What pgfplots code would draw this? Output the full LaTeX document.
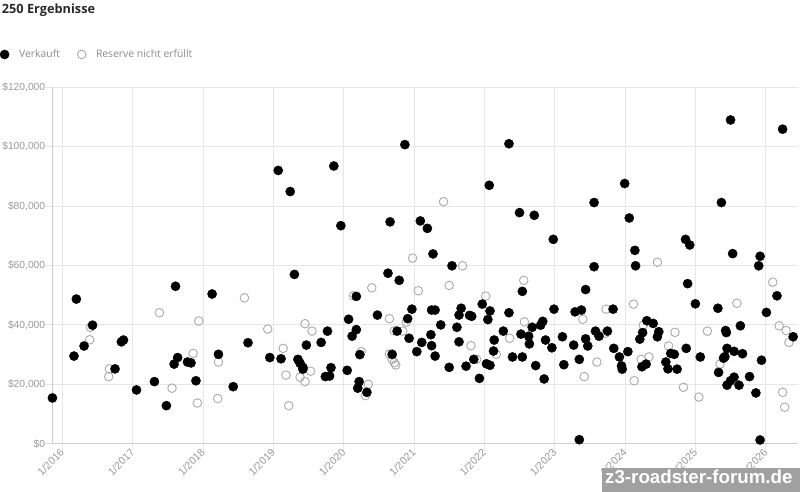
\documentclass[border=0pt]{standalone}
\usepackage{pgfplots}
\pgfplotsset{compat=1.18}
\usepackage{fontspec}
\setmainfont{Liberation Sans}
\newfontfamily\opensans{Open Sans}
\definecolor{gridc}{HTML}{E6E6E6}
\definecolor{axisc}{HTML}{CCCCCC}
\definecolor{tickc}{HTML}{999999}
\definecolor{legc}{HTML}{8A8A8A}
\definecolor{titlec}{HTML}{2A2A2A}
\definecolor{openc}{HTML}{AAAAAA}
\definecolor{wmc}{HTML}{A0A0A0}
\begin{document}
\begin{tikzpicture}
\path[use as bounding box] (0,0) rectangle (800bp,492bp);
\node[anchor=base west, inner sep=0pt, font=\opensans\bfseries\fontsize{12.8}{15}\selectfont, text=titlec] at (1.7bp,478bp) {250 Ergebnisse};
\begin{axis}[
  at={(52.3bp,48.3bp)}, anchor=south west,
  scale only axis, width=745.7bp, height=356.4bp,
  xmin=2015.858, xmax=2026.459, ymin=0, ymax=120000,
  axis x line*=bottom, axis y line*=left,
  axis line style={draw=axisc, line width=1bp, -},
  grid=major, major grid style={draw=gridc, line width=0.8bp},
  tick align=outside, major tick length=7bp,
  tick style={draw=gridc, line width=0.8bp},
  xtick={2016,2017,2018,2019,2020,2021,2022,2023,2024,2025,2026},
  xticklabels={1/2016,1/2017,1/2018,1/2019,1/2020,1/2021,1/2022,1/2023,1/2024,1/2025,1/2026},
  ytick={0,20000,40000,60000,80000,100000,120000},
  yticklabels={\$0,{\$20,000},{\$40,000},{\$60,000},{\$80,000},{\$100,000},{\$120,000}},
  scaled y ticks=false,
  tick label style={font=\fontsize{10.3}{12}\selectfont, text=tickc},
  yticklabel style={anchor=east, inner sep=0pt},
  xticklabel style={rotate=45, anchor=east, inner sep=0pt, font=\fontsize{10.6}{12}\selectfont},
  clip=false,
  legend columns=-1,
  legend cell align=left,
  legend image code/.code={\draw[#1] plot coordinates {(4.6bp,0bp)};},
  legend style={draw=none, fill=none, at={(axis description cs:0,1)}, anchor=west,
    xshift=-52.3bp, yshift=32.8bp, inner sep=0pt, outer sep=0pt,
    font=\opensans\fontsize{10.4}{12}\selectfont, text=legc,
    /tikz/every odd column/.append style={column sep=8bp},
    /tikz/every even column/.append style={column sep=15.5bp}},
]
\addplot[only marks, mark=o, mark size=4.3bp, mark options={draw=openc, line width=0.9bp}, forget plot] coordinates {
(2016.40,39200) (2016.39,35000) (2016.67,25200) (2016.66,22600) (2017.38,44100)
(2017.56,18700) (2017.86,30400) (2017.94,41300) (2017.92,13700) (2018.22,27500)
(2018.21,15200) (2018.59,49100) (2018.92,38600)
(2019.14,32100) (2019.18,23100) (2019.22,12800) (2019.45,40400) (2019.55,37900)
(2019.38,22400) (2019.45,20900) (2019.53,24400) (2020.14,49800) (2020.40,52500)
(2020.25,31000) (2020.35,20000) (2020.31,16200)
(2021.42,81500) (2020.98,62500) (2021.69,59900) (2021.50,53300) (2021.06,51500)
(2022.02,49700) (2020.65,42100) (2020.89,40900) (2020.72,38000) (2020.84,37900)
(2020.65,30200) (2020.69,28400) (2020.72,27300) (2020.74,26500) (2021.81,33000)
(2022.17,30100) (2021.89,28400)
(2022.56,55000) (2022.57,41000) (2022.36,35500) (2023.40,41900) (2023.73,45300)
(2023.72,37200) (2023.60,27500) (2023.42,22600)
(2024.46,61100) (2024.12,47000) (2024.26,39900) (2024.71,37500) (2025.17,37900)
(2025.59,47300) (2024.62,32900) (2024.23,28400) (2024.34,29200) (2024.13,21200)
(2024.83,19000) (2025.05,15700) (2025.35,26800)
(2026.10,54400) (2026.19,39700) (2026.29,38100) (2026.33,34100) (2026.24,17300)
(2026.27,12300)
};
\addplot[only marks, mark=*, mark size=4.6bp, mark options={draw=black, fill=black}] coordinates {
(2015.86,15400) (2016.166,29500) (2016.20,48700) (2016.31,32900) (2016.43,39900)
(2016.75,25200) (2016.84,34300) (2016.87,34900) (2017.055,18100) (2017.31,20900)
(2017.48,12800) (2017.59,26800) (2017.64,29000) (2017.61,53000) (2017.78,27500)
(2017.83,27200) (2017.90,21200) (2018.13,50400) (2018.22,30100) (2018.43,19200)
(2018.64,34000) (2018.95,29000)
(2019.07,92000) (2019.86,93500) (2019.24,84900) (2019.96,73400) (2019.30,57000)
(2020.18,49600) (2020.48,43300) (2020.07,41900) (2020.18,38400) (2020.12,36200)
(2019.77,37900) (2019.68,34100) (2019.47,33200) (2019.11,28600) (2019.35,28400)
(2019.38,27100) (2019.42,25700) (2019.42,25100) (2019.82,25600) (2019.74,22600)
(2019.80,22800) (2020.05,24700) (2020.23,30000) (2020.22,20900) (2020.20,18700)
(2020.33,17300)
(2020.87,100700) (2022.07,87000) (2020.66,74700) (2021.09,75000) (2021.19,72500)
(2021.27,63900) (2021.54,59900) (2020.63,57400) (2020.79,55000) (2020.97,45300)
(2020.91,42100) (2020.76,37900) (2020.93,35500) (2021.25,45000) (2021.30,45000)
(2021.38,40000) (2021.24,36700) (2021.11,34100) (2021.25,33000) (2021.04,31000)
(2021.30,29500) (2020.69,30100) (2021.67,45600) (2021.64,43300) (2021.79,43200)
(2021.82,42900) (2021.61,39200) (2021.64,34300) (2021.97,47000) (2022.08,44700)
(2022.05,41800) (2022.27,37900) (2022.14,34900) (2022.13,31200) (2021.85,28400)
(2022.03,26900) (2022.08,26400) (2021.74,26100) (2021.50,25700) (2021.93,22000)
(2022.35,101000) (2022.50,77800) (2022.71,76900) (2022.98,68800) (2023.56,81200)
(2023.56,59600) (2023.995,87600) (2022.54,51300) (2023.44,51900) (2022.35,44100)
(2022.99,45300) (2023.29,44400) (2023.38,45000) (2023.83,45300) (2022.52,36900)
(2022.63,36200) (2022.64,33600) (2022.68,39200) (2022.80,39900) (2022.83,41200)
(2022.87,34900) (2022.96,32300) (2022.40,29200) (2022.54,29200) (2022.73,26300)
(2022.85,21800) (2023.11,36000) (2023.27,33200) (2023.13,26600) (2023.35,28400)
(2023.44,35300) (2023.47,32900) (2023.58,37900) (2023.63,36200) (2023.75,37900)
(2023.84,32100) (2023.92,29200) (2023.95,26200) (2023.96,25100) (2023.35,1350)
(2025.50,109000) (2025.37,81200) (2024.06,76000) (2024.14,65100) (2024.15,59900)
(2024.86,68800) (2024.92,66900) (2025.53,64000) (2024.89,53900) (2025.00,47100)
(2025.32,45600) (2024.31,41400) (2024.40,40500) (2024.25,37400) (2024.21,35200)
(2024.48,37700) (2024.46,36000) (2024.04,31000) (2024.24,25900) (2024.30,26800)
(2024.65,30400) (2024.70,30100) (2024.58,27500) (2024.61,25200) (2024.74,25100)
(2024.87,32100) (2025.07,29200) (2025.43,38100) (2025.44,37400) (2025.64,39700)
(2025.45,32100) (2025.55,31100) (2025.42,29300) (2025.40,28800) (2025.67,30300)
(2025.33,24000) (2025.45,19700) (2025.50,21200) (2025.55,22400) (2025.62,19700)
(2026.24,105900) (2025.92,63100) (2025.90,59900) (2026.16,49800) (2026.01,44200)
(2026.39,36000) (2025.94,28100) (2025.77,22600) (2025.86,17100) (2025.92,1250)
};
\addlegendentry{Verkauft}
\addlegendimage{only marks, mark=o, mark size=4.3bp, mark options={draw=openc, line width=0.9bp}}
\addlegendentry{Reserve nicht erfüllt}
\end{axis}
\fill[wmc] (601.7bp,0) rectangle (800bp,23.7bp);
\node[anchor=base west, inner sep=0pt, font=\bfseries\fontsize{18.8}{20}\selectfont, text=white] at (605bp,8.7bp) {z3-roadster-forum.de};
\end{tikzpicture}
\end{document}
